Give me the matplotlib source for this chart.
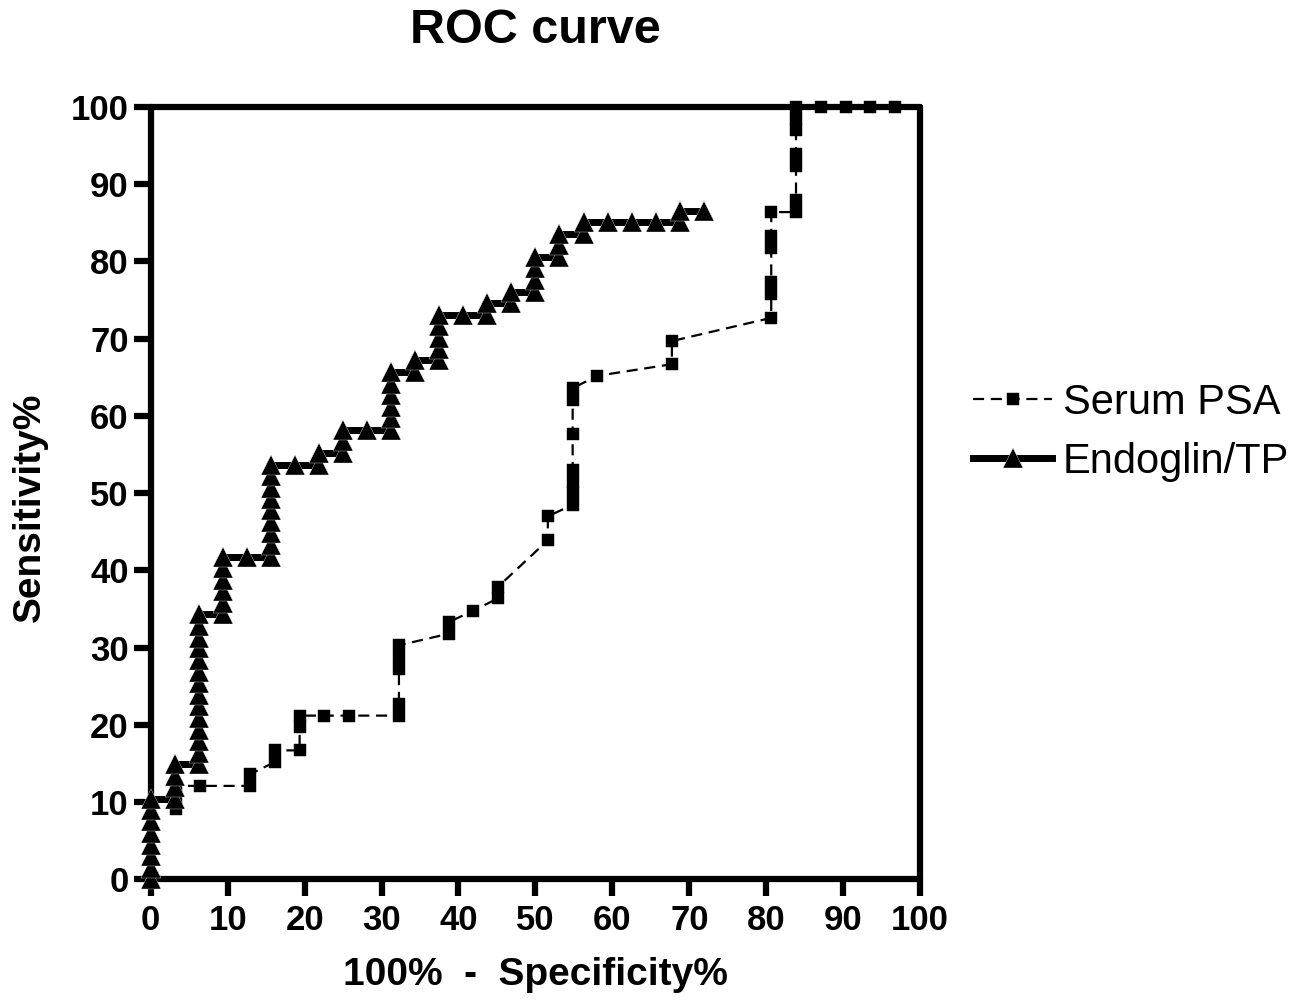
import matplotlib
matplotlib.use("Agg")
from matplotlib import pyplot as plt

plt.rcParams['font.family'] = ['Liberation Sans', 'DejaVu Sans']

# Serum PSA (100% - specificity, sensitivity)
psa_x = [3.23, 3.23, 3.23, 6.45, 12.9, 12.9, 16.13, 16.13, 19.35, 19.35, 19.35,
         22.58, 25.81, 32.26, 32.26, 32.26, 32.26, 32.26, 38.71, 38.71, 41.94,
         45.16, 45.16, 51.61, 51.61, 54.84, 54.84, 54.84, 54.84, 54.84, 54.84,
         54.84, 58.06, 67.74, 67.74, 80.65, 80.65, 80.65, 80.65, 80.65, 80.65,
         83.87, 83.87, 83.87, 83.87, 83.87, 83.87, 83.87, 87.1, 90.32, 93.55, 96.77]
psa_y = [9.1, 10.6, 12.1, 12.1, 12.1, 13.6, 15.2, 16.7, 16.7, 19.7, 21.2,
         21.2, 21.2, 21.2, 22.7, 27.3, 28.8, 30.3, 31.8, 33.3, 34.8,
         36.4, 37.9, 43.9, 47.0, 48.5, 50.0, 51.5, 53.0, 57.6, 62.1,
         63.6, 65.2, 66.7, 69.7, 72.7, 75.8, 77.3, 81.8, 83.3, 86.4,
         86.4, 87.9, 92.4, 93.9, 97.0, 98.5, 100, 100, 100, 100, 100]

# Endoglin/TP
end_x = [0, 0, 0, 0, 0, 0, 0, 0,
         3.125, 3.125, 3.125, 3.125,
         6.25, 6.25, 6.25, 6.25, 6.25, 6.25, 6.25, 6.25, 6.25, 6.25, 6.25, 6.25, 6.25, 6.25,
         9.375, 9.375, 9.375, 9.375, 9.375, 9.375,
         12.5,
         15.625, 15.625, 15.625, 15.625, 15.625, 15.625, 15.625, 15.625, 15.625,
         18.75, 21.875, 21.875, 25.0, 25.0, 25.0, 28.125,
         31.25, 31.25, 31.25, 31.25, 31.25, 31.25,
         34.375, 34.375,
         37.5, 37.5, 37.5, 37.5, 37.5,
         40.625, 43.75, 43.75, 46.875, 46.875,
         50.0, 50.0, 50.0, 50.0,
         53.125, 53.125, 53.125,
         56.25, 56.25, 59.375, 62.5, 65.625, 68.75, 68.75, 71.875]
end_y = [0, 1.5, 3.0, 4.5, 6.0, 7.5, 9.0, 10.4,
         10.4, 11.9, 13.4, 14.9,
         14.9, 16.4, 17.9, 19.4, 20.9, 22.4, 23.9, 25.4, 26.9, 28.4, 29.9, 31.3, 32.8, 34.3,
         34.3, 35.8, 37.3, 38.8, 40.3, 41.8,
         41.8,
         41.8, 43.3, 44.8, 46.3, 47.8, 49.3, 50.7, 52.2, 53.7,
         53.7, 53.7, 55.2, 55.2, 56.7, 58.2, 58.2,
         58.2, 59.7, 61.2, 62.7, 64.2, 65.7,
         65.7, 67.2,
         67.2, 68.7, 70.1, 71.6, 73.1,
         73.1, 73.1, 74.6, 74.6, 76.1,
         76.1, 77.6, 79.1, 80.6,
         80.6, 82.1, 83.6,
         83.6, 85.1, 85.1, 85.1, 85.1, 85.1, 86.6, 86.6]

ticks = [0, 10, 20, 30, 40, 50, 60, 70, 80, 90, 100]

fig = plt.figure(figsize=(13.04, 10.06), dpi=100)
ax = fig.add_axes([0.1156, 0.1259, 0.59, 0.7677])

ax.plot(psa_x, psa_y, color='black', lw=1.6, ls=(0, (5, 3)), marker='s', ms=8,
        mec='black', mew=0.3, clip_on=False, zorder=3, label='Serum PSA')
ax.plot(end_x, end_y, color='black', lw=5, marker='^', ms=14.5,
        mec='white', mew=0.25, clip_on=False, zorder=4, label='Endoglin/TP')

ax.set_xlim(0, 100)
ax.set_ylim(0, 100)
ax.set_xticks(ticks)
ax.set_yticks(ticks)
for s in ax.spines.values():
    s.set_linewidth(4.5)
    s.set_capstyle('round')
ax.tick_params(axis='both', direction='out', length=12, width=4.5, labelsize=25)
ax.tick_params(axis='x', pad=6)
ax.tick_params(axis='y', pad=4)
for lab in ax.get_xticklabels() + ax.get_yticklabels():
    lab.set_fontweight('bold')

ax.set_title('ROC curve', fontsize=35, fontweight='bold', pad=46)
ax.set_xlabel('100%  -  Specificity%', fontsize=28, fontweight='bold', labelpad=14)
ax.set_ylabel('Sensitivity%', fontsize=28, fontweight='bold')
ax.yaxis.set_label_coords(-0.134, 0.482)

leg = ax.legend(loc='center left', bbox_to_anchor=(1.047, 0.579), frameon=False,
                fontsize=30, handlelength=1.9, handletextpad=0.25, labelspacing=0.45,
                borderaxespad=0)

fig.savefig('out.png', dpi=100)
